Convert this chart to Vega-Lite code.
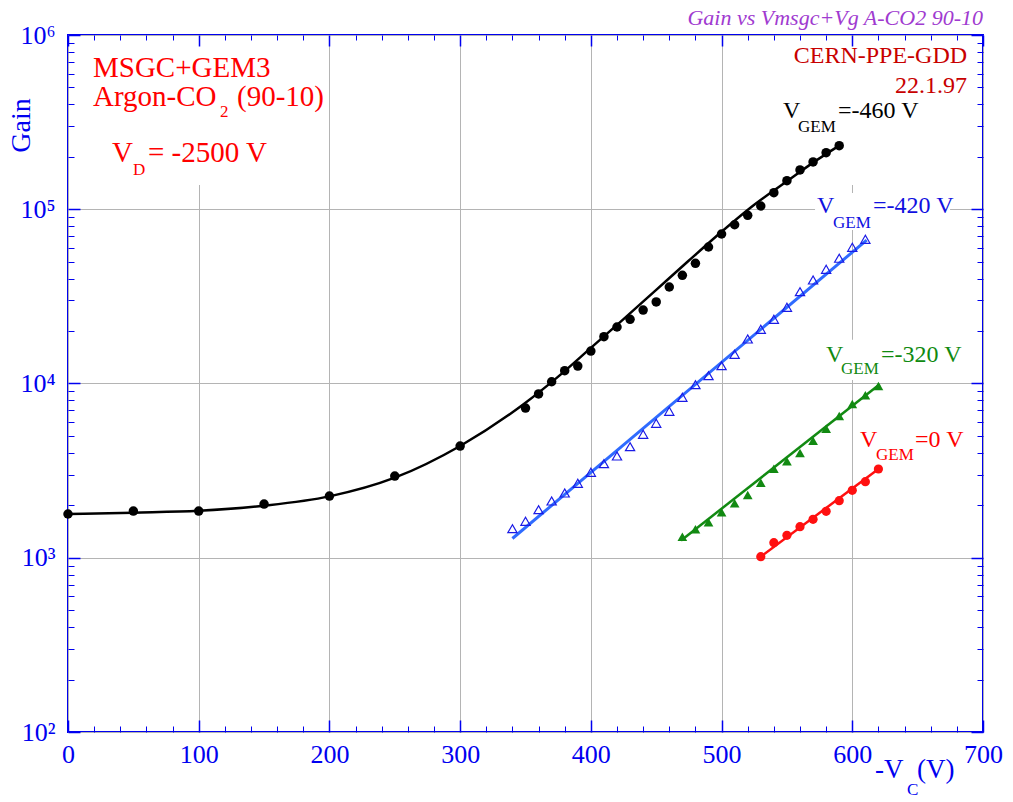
{
  "$schema": "https://vega.github.io/schema/vega-lite/v6.json",
  "width": 915,
  "height": 697,
  "autosize": {"type": "none"},
  "padding": {"left": 68, "top": 35, "right": 30, "bottom": 70},
  "background": "white",
  "config": {"view": {"stroke": "#0000f0", "strokeWidth": 2}, "font": "Liberation Serif"},
  "title": {"text": "Gain vs Vmsgc+Vg A-CO2 90-10", "anchor": "end", "frame": "group", "font": "Liberation Serif", "fontSize": 22, "fontStyle": "italic", "fontWeight": "normal", "color": "#a03ad0", "offset": 0, "dy": 25, "baseline": "alphabetic"},
  "datasets": {
    "pts": [
      {"series": "460", "v": 0, "g": 1783}, {"series": "460", "v": 50, "g": 1854}, {"series": "460", "v": 100, "g": 1854}, {"series": "460", "v": 150, "g": 2032}, {"series": "460", "v": 200, "g": 2259}, {"series": "460", "v": 250, "g": 2942}, {"series": "460", "v": 300, "g": 4375}, {"series": "460", "v": 350, "g": 7228}, {"series": "460", "v": 360, "g": 8710}, {"series": "460", "v": 370, "g": 10234}, {"series": "460", "v": 380, "g": 11840}, {"series": "460", "v": 390, "g": 12590}, {"series": "460", "v": 400, "g": 15350}, {"series": "460", "v": 410, "g": 18560}, {"series": "460", "v": 420, "g": 21100}, {"series": "460", "v": 430, "g": 23360}, {"series": "460", "v": 440, "g": 26400}, {"series": "460", "v": 450, "g": 29370}, {"series": "460", "v": 460, "g": 35800}, {"series": "460", "v": 470, "g": 41780}, {"series": "460", "v": 480, "g": 48960}, {"series": "460", "v": 490, "g": 60730}, {"series": "460", "v": 500, "g": 72120}, {"series": "460", "v": 510, "g": 81500}, {"series": "460", "v": 520, "g": 92240}, {"series": "460", "v": 530, "g": 104400}, {"series": "460", "v": 540, "g": 124500}, {"series": "460", "v": 550, "g": 145900}, {"series": "460", "v": 560, "g": 168100}, {"series": "460", "v": 570, "g": 186800}, {"series": "460", "v": 580, "g": 211200}, {"series": "460", "v": 590, "g": 231700},
      {"series": "420", "v": 340, "g": 1468}, {"series": "420", "v": 350, "g": 1619}, {"series": "420", "v": 360, "g": 1887}, {"series": "420", "v": 370, "g": 2117}, {"series": "420", "v": 380, "g": 2353}, {"series": "420", "v": 390, "g": 2675}, {"series": "420", "v": 400, "g": 3093}, {"series": "420", "v": 410, "g": 3466}, {"series": "420", "v": 420, "g": 3837}, {"series": "420", "v": 430, "g": 4338}, {"series": "420", "v": 440, "g": 5110}, {"series": "420", "v": 450, "g": 5909}, {"series": "420", "v": 460, "g": 6927}, {"series": "420", "v": 470, "g": 8333}, {"series": "420", "v": 480, "g": 9842}, {"series": "420", "v": 490, "g": 11087}, {"series": "420", "v": 500, "g": 12654}, {"series": "420", "v": 510, "g": 14712}, {"series": "420", "v": 520, "g": 18004}, {"series": "420", "v": 530, "g": 20470}, {"series": "420", "v": 540, "g": 23360}, {"series": "420", "v": 550, "g": 27366}, {"series": "420", "v": 560, "g": 33642}, {"series": "420", "v": 570, "g": 39267}, {"series": "420", "v": 580, "g": 45231}, {"series": "420", "v": 590, "g": 52316}, {"series": "420", "v": 600, "g": 60484}, {"series": "420", "v": 610, "g": 67231},
      {"series": "320", "v": 470, "g": 1321}, {"series": "320", "v": 480, "g": 1456}, {"series": "320", "v": 490, "g": 1597}, {"series": "320", "v": 500, "g": 1824}, {"series": "320", "v": 510, "g": 2053}, {"series": "320", "v": 520, "g": 2292}, {"series": "320", "v": 530, "g": 2696}, {"series": "320", "v": 540, "g": 3245}, {"series": "320", "v": 550, "g": 3577}, {"series": "320", "v": 560, "g": 3992}, {"series": "320", "v": 570, "g": 4697}, {"series": "320", "v": 580, "g": 5504}, {"series": "320", "v": 590, "g": 6509}, {"series": "320", "v": 600, "g": 7627}, {"series": "320", "v": 610, "g": 8558}, {"series": "320", "v": 620, "g": 9676},
      {"series": "0", "v": 530, "g": 1014}, {"series": "0", "v": 540, "g": 1220}, {"series": "0", "v": 550, "g": 1345}, {"series": "0", "v": 560, "g": 1507}, {"series": "0", "v": 570, "g": 1662}, {"series": "0", "v": 580, "g": 1847}, {"series": "0", "v": 590, "g": 2126}, {"series": "0", "v": 600, "g": 2438}, {"series": "0", "v": 610, "g": 2733}, {"series": "0", "v": 620, "g": 3231}
    ],
    "fit": [
      {"series": "460", "v": 0, "g": 1780}, {"series": "460", "v": 50, "g": 1815}, {"series": "460", "v": 100, "g": 1860}, {"series": "460", "v": 150, "g": 1990}, {"series": "460", "v": 200, "g": 2250}, {"series": "460", "v": 250, "g": 2880}, {"series": "460", "v": 300, "g": 4380}, {"series": "460", "v": 350, "g": 7755}, {"series": "460", "v": 375, "g": 10950}, {"series": "460", "v": 400, "g": 16015}, {"series": "460", "v": 425, "g": 23420}, {"series": "460", "v": 450, "g": 34470}, {"series": "460", "v": 475, "g": 50770}, {"series": "460", "v": 500, "g": 74230}, {"series": "460", "v": 525, "g": 106050}, {"series": "460", "v": 550, "g": 144700}, {"series": "460", "v": 570, "g": 185200}, {"series": "460", "v": 590, "g": 232000},
      {"series": "420", "v": 340, "g": 1290}, {"series": "420", "v": 611, "g": 66500},
      {"series": "320", "v": 469, "g": 1255}, {"series": "320", "v": 621, "g": 9900},
      {"series": "0", "v": 530, "g": 1014}, {"series": "0", "v": 620, "g": 3231}
    ],
    "boxes": [
      {"v1": 13, "v2": 192.8, "g1": 137800, "g2": 935000},
      {"v1": 541, "v2": 694, "g1": 137800, "g2": 877000},
      {"v1": 571.5, "v2": 674.8, "g1": 76000, "g2": 123900},
      {"v1": 576.8, "v2": 686.3, "g1": 10470, "g2": 17800}
    ],
    "labels": [
      {"role": "big", "grp": "info", "t": "MSGC+GEM3", "v": 19.1, "g": 574000},
      {"role": "big", "grp": "info", "t": "Argon-CO", "v": 19.1, "g": 391700},
      {"role": "big", "grp": "info", "t": "(90-10)", "v": 129.3, "g": 391700},
      {"role": "big", "grp": "info", "t": "V", "v": 33.7, "g": 186600},
      {"role": "big", "grp": "info", "t": "= -2500 V", "v": 61.2, "g": 186600},
      {"role": "sub", "grp": "info", "t": "2", "v": 116.3, "g": 338000},
      {"role": "sub", "grp": "info", "t": "D", "v": 49.7, "g": 157400},
      {"role": "midr", "grp": "cern", "t": "CERN-PPE-GDD", "v": 687.8, "g": 690000},
      {"role": "midr", "grp": "cern", "t": "22.1.97", "v": 687.8, "g": 464000},
      {"role": "mid", "grp": "g460", "t": "V", "v": 547, "g": 334000},
      {"role": "mid", "grp": "g460", "t": "=-460 V", "v": 589.1, "g": 334000},
      {"role": "sub", "grp": "g460", "t": "GEM", "v": 558.5, "g": 277000},
      {"role": "mid", "grp": "g420", "t": "V", "v": 573, "g": 95300},
      {"role": "mid", "grp": "g420", "t": "=-420 V", "v": 615.9, "g": 95300},
      {"role": "sub", "grp": "g420", "t": "GEM", "v": 585.3, "g": 78200},
      {"role": "mid", "grp": "g320", "t": "V", "v": 579.9, "g": 13280},
      {"role": "mid", "grp": "g320", "t": "=-320 V", "v": 622, "g": 13280},
      {"role": "sub", "grp": "g320", "t": "GEM", "v": 591.4, "g": 11340},
      {"role": "mid", "grp": "g0", "t": "V", "v": 605.9, "g": 4325},
      {"role": "mid", "grp": "g0", "t": "=0 V", "v": 648, "g": 4325},
      {"role": "sub", "grp": "g0", "t": "GEM", "v": 618.2, "g": 3640},
      {"role": "ax", "grp": "axis", "t": "-V", "v": 617.4, "g": 54.5},
      {"role": "ax", "grp": "axis", "t": "(V)", "v": 649.5, "g": 54.5},
      {"role": "axsub", "grp": "axis", "t": "C", "v": 641.9, "g": 43.5}
    ]
  },
  "resolve": {"axis": {"x": "independent", "y": "independent"}},
  "layer": [
    {
      "data": {"name": "boxes"},
      "mark": {"type": "rect", "fill": "white"},
      "encoding": {
        "x": {"field": "v1", "type": "quantitative", "scale": {"domain": [0, 700], "nice": false, "zero": false}, "axis": null},
        "x2": {"field": "v2"},
        "y": {"field": "g1", "type": "quantitative", "scale": {"type": "log", "domain": [100, 1000000], "nice": false}, "axis": null},
        "y2": {"field": "g2"}
      }
    },
    {
      "data": {"name": "fit"},
      "transform": [{"filter": "datum.series == '460'"}],
      "mark": {"type": "line", "color": "#000000", "strokeWidth": 2.5, "interpolate": "monotone"},
      "encoding": {
        "x": {"field": "v", "type": "quantitative", "scale": {"domain": [0, 700], "nice": false, "zero": false},
          "axis": {"orient": "bottom", "values": [0, 100, 200, 300, 400, 500, 600, 700], "labels": false, "domain": false, "grid": false, "ticks": true, "tickSize": -12, "tickColor": "#0000f0", "tickWidth": 1.5, "title": null, "zindex": 1}},
        "y": {"field": "g", "type": "quantitative", "scale": {"type": "log", "domain": [100, 1000000], "nice": false},
          "axis": {"orient": "left", "values": [100, 1000, 10000, 100000, 1000000], "labels": false, "domain": false, "grid": false, "ticks": true, "tickSize": -12, "tickColor": "#0000f0", "tickWidth": 1.5, "title": null, "zindex": 1}}
      }
    },
    {
      "data": {"name": "pts"},
      "transform": [{"filter": "datum.series == '460'"}],
      "mark": {"type": "circle", "color": "#000000", "opacity": 1, "size": 90},
      "encoding": {
        "x": {"field": "v", "type": "quantitative", "scale": {"domain": [0, 700], "nice": false, "zero": false},
          "axis": {"orient": "bottom", "values": [0, 100, 200, 300, 400, 500, 600, 700], "ticks": false, "domain": false, "grid": true, "gridColor": "#b4b4b4", "gridWidth": 1, "labelFont": "Liberation Serif", "labelFontSize": 26, "labelColor": "#0000f0", "labelPadding": 9, "labelFlush": false, "labelOverlap": false, "title": null, "zindex": 0}},
        "y": {"field": "g", "type": "quantitative", "scale": {"type": "log", "domain": [100, 1000000], "nice": false},
          "axis": {"orient": "left", "values": [100, 1000, 10000, 100000, 1000000], "ticks": false, "domain": false, "grid": true, "gridColor": "#b4b4b4", "gridWidth": 1, "labelFont": "Liberation Serif", "labelFontSize": 26, "labelColor": "#0000f0", "labelPadding": 13, "labelFlush": false, "labelOverlap": false, "labelBaseline": "middle",
            "labelExpr": "'10' + ['⁰','¹','²','³','⁴','⁵','⁶'][round(log(datum.value)/LN10)]",
            "title": "Gain", "titleFont": "Liberation Serif", "titleFontSize": 28, "titleFontWeight": "normal", "titleColor": "#0000f0", "titleAngle": -90, "titleX": -39, "titleY": 90, "titleAlign": "center", "titleBaseline": "alphabetic", "zindex": 0}}
      }
    },
    {
      "data": {"name": "fit"},
      "transform": [{"filter": "datum.series == '420'"}],
      "mark": {"type": "line", "color": "#2f6bff", "strokeWidth": 3},
      "encoding": {
        "x": {"field": "v", "type": "quantitative", "scale": {"domain": [0, 700], "nice": false, "zero": false},
          "axis": {"orient": "top", "values": [0, 100, 200, 300, 400, 500, 600, 700], "labels": false, "domain": false, "grid": false, "ticks": true, "tickSize": -11, "tickColor": "#0000f0", "tickWidth": 1.5, "title": null, "zindex": 1}},
        "y": {"field": "g", "type": "quantitative", "scale": {"type": "log", "domain": [100, 1000000], "nice": false},
          "axis": {"orient": "right", "values": [100, 1000, 10000, 100000, 1000000], "labels": false, "domain": false, "grid": false, "ticks": true, "tickSize": -12, "tickColor": "#0000f0", "tickWidth": 1.5, "title": null, "zindex": 1}}
      }
    },
    {
      "data": {"name": "pts"},
      "transform": [{"filter": "datum.series == '420'"}],
      "mark": {"type": "point", "shape": "triangle-up", "filled": false, "color": "#1a1ae6", "strokeWidth": 1.2, "size": 85, "opacity": 1},
      "encoding": {
        "x": {"field": "v", "type": "quantitative", "scale": {"domain": [0, 700], "nice": false, "zero": false},
          "axis": {"orient": "bottom", "values": [20, 40, 60, 80, 120, 140, 160, 180, 220, 240, 260, 280, 320, 340, 360, 380, 420, 440, 460, 480, 520, 540, 560, 580, 620, 640, 660, 680], "labels": false, "domain": false, "grid": false, "ticks": true, "tickSize": -6, "tickColor": "#0000f0", "tickWidth": 1, "title": null, "zindex": 1}},
        "y": {"field": "g", "type": "quantitative", "scale": {"type": "log", "domain": [100, 1000000], "nice": false},
          "axis": {"orient": "left", "values": [200, 300, 400, 500, 600, 700, 800, 900, 2000, 3000, 4000, 5000, 6000, 7000, 8000, 9000, 20000, 30000, 40000, 50000, 60000, 70000, 80000, 90000, 200000, 300000, 400000, 500000, 600000, 700000, 800000, 900000], "labels": false, "domain": false, "grid": false, "ticks": true, "tickSize": -6, "tickColor": "#0000f0", "tickWidth": 1, "title": null, "zindex": 1}}
      }
    },
    {
      "data": {"name": "fit"},
      "transform": [{"filter": "datum.series == '320'"}],
      "mark": {"type": "line", "color": "#128a12", "strokeWidth": 2.5},
      "encoding": {
        "x": {"field": "v", "type": "quantitative", "scale": {"domain": [0, 700], "nice": false, "zero": false},
          "axis": {"orient": "top", "values": [20, 40, 60, 80, 120, 140, 160, 180, 220, 240, 260, 280, 320, 340, 360, 380, 420, 440, 460, 480, 520, 540, 560, 580, 620, 640, 660, 680], "labels": false, "domain": false, "grid": false, "ticks": true, "tickSize": -5, "tickColor": "#0000f0", "tickWidth": 1, "title": null, "zindex": 1}},
        "y": {"field": "g", "type": "quantitative", "scale": {"type": "log", "domain": [100, 1000000], "nice": false},
          "axis": {"orient": "right", "values": [200, 300, 400, 500, 600, 700, 800, 900, 2000, 3000, 4000, 5000, 6000, 7000, 8000, 9000, 20000, 30000, 40000, 50000, 60000, 70000, 80000, 90000, 200000, 300000, 400000, 500000, 600000, 700000, 800000, 900000], "labels": false, "domain": false, "grid": false, "ticks": true, "tickSize": -6, "tickColor": "#0000f0", "tickWidth": 1, "title": null, "zindex": 1}}
      }
    },
    {
      "data": {"name": "pts"},
      "transform": [{"filter": "datum.series == '320'"}],
      "mark": {"type": "point", "shape": "triangle-up", "filled": true, "color": "#128a12", "size": 95, "opacity": 1},
      "encoding": {
        "x": {"field": "v", "type": "quantitative", "scale": {"domain": [0, 700], "nice": false, "zero": false}, "axis": null},
        "y": {"field": "g", "type": "quantitative", "scale": {"type": "log", "domain": [100, 1000000], "nice": false}, "axis": null}
      }
    },
    {
      "data": {"name": "fit"},
      "transform": [{"filter": "datum.series == '0'"}],
      "mark": {"type": "line", "color": "#ff1010", "strokeWidth": 2.5},
      "encoding": {
        "x": {"field": "v", "type": "quantitative", "scale": {"domain": [0, 700], "nice": false, "zero": false}, "axis": null},
        "y": {"field": "g", "type": "quantitative", "scale": {"type": "log", "domain": [100, 1000000], "nice": false}, "axis": null}
      }
    },
    {
      "data": {"name": "pts"},
      "transform": [{"filter": "datum.series == '0'"}],
      "mark": {"type": "circle", "color": "#ff1010", "size": 85, "opacity": 1},
      "encoding": {
        "x": {"field": "v", "type": "quantitative", "scale": {"domain": [0, 700], "nice": false, "zero": false}, "axis": null},
        "y": {"field": "g", "type": "quantitative", "scale": {"type": "log", "domain": [100, 1000000], "nice": false}, "axis": null}
      }
    },
    {
      "data": {"name": "labels"},
      "transform": [{"filter": "datum.role == 'big'"}],
      "mark": {"type": "text", "font": "Liberation Serif", "fontSize": 29, "align": "left", "baseline": "alphabetic"},
      "encoding": {
        "x": {"field": "v", "type": "quantitative", "scale": {"domain": [0, 700], "nice": false, "zero": false}, "axis": null},
        "y": {"field": "g", "type": "quantitative", "scale": {"type": "log", "domain": [100, 1000000], "nice": false}, "axis": null},
        "text": {"field": "t"},
        "color": {"field": "grp", "type": "nominal", "legend": null, "scale": {"domain": ["info", "cern", "g460", "g420", "g320", "g0", "axis"], "range": ["#ff0000", "#c80000", "#000000", "#1010e0", "#108a10", "#ff0000", "#0000f0"]}}
      }
    },
    {
      "data": {"name": "labels"},
      "transform": [{"filter": "datum.role == 'mid'"}],
      "mark": {"type": "text", "font": "Liberation Serif", "fontSize": 24, "align": "left", "baseline": "alphabetic"},
      "encoding": {
        "x": {"field": "v", "type": "quantitative", "scale": {"domain": [0, 700], "nice": false, "zero": false}, "axis": null},
        "y": {"field": "g", "type": "quantitative", "scale": {"type": "log", "domain": [100, 1000000], "nice": false}, "axis": null},
        "text": {"field": "t"},
        "color": {"field": "grp", "type": "nominal", "legend": null, "scale": {"domain": ["info", "cern", "g460", "g420", "g320", "g0", "axis"], "range": ["#ff0000", "#c80000", "#000000", "#1010e0", "#108a10", "#ff0000", "#0000f0"]}}
      }
    },
    {
      "data": {"name": "labels"},
      "transform": [{"filter": "datum.role == 'midr'"}],
      "mark": {"type": "text", "font": "Liberation Serif", "fontSize": 24, "align": "right", "baseline": "alphabetic"},
      "encoding": {
        "x": {"field": "v", "type": "quantitative", "scale": {"domain": [0, 700], "nice": false, "zero": false}, "axis": null},
        "y": {"field": "g", "type": "quantitative", "scale": {"type": "log", "domain": [100, 1000000], "nice": false}, "axis": null},
        "text": {"field": "t"},
        "color": {"field": "grp", "type": "nominal", "legend": null, "scale": {"domain": ["info", "cern", "g460", "g420", "g320", "g0", "axis"], "range": ["#ff0000", "#c80000", "#000000", "#1010e0", "#108a10", "#ff0000", "#0000f0"]}}
      }
    },
    {
      "data": {"name": "labels"},
      "transform": [{"filter": "datum.role == 'sub'"}],
      "mark": {"type": "text", "font": "Liberation Serif", "fontSize": 17, "align": "left", "baseline": "alphabetic"},
      "encoding": {
        "x": {"field": "v", "type": "quantitative", "scale": {"domain": [0, 700], "nice": false, "zero": false}, "axis": null},
        "y": {"field": "g", "type": "quantitative", "scale": {"type": "log", "domain": [100, 1000000], "nice": false}, "axis": null},
        "text": {"field": "t"},
        "color": {"field": "grp", "type": "nominal", "legend": null, "scale": {"domain": ["info", "cern", "g460", "g420", "g320", "g0", "axis"], "range": ["#ff0000", "#c80000", "#000000", "#1010e0", "#108a10", "#ff0000", "#0000f0"]}}
      }
    },
    {
      "data": {"name": "labels"},
      "transform": [{"filter": "datum.role == 'ax'"}],
      "mark": {"type": "text", "font": "Liberation Serif", "fontSize": 27, "align": "left", "baseline": "alphabetic"},
      "encoding": {
        "x": {"field": "v", "type": "quantitative", "scale": {"domain": [0, 700], "nice": false, "zero": false}, "axis": null},
        "y": {"field": "g", "type": "quantitative", "scale": {"type": "log", "domain": [100, 1000000], "nice": false}, "axis": null},
        "text": {"field": "t"},
        "color": {"field": "grp", "type": "nominal", "legend": null, "scale": {"domain": ["info", "cern", "g460", "g420", "g320", "g0", "axis"], "range": ["#ff0000", "#c80000", "#000000", "#1010e0", "#108a10", "#ff0000", "#0000f0"]}}
      }
    },
    {
      "data": {"name": "labels"},
      "transform": [{"filter": "datum.role == 'axsub'"}],
      "mark": {"type": "text", "font": "Liberation Serif", "fontSize": 17, "align": "left", "baseline": "alphabetic"},
      "encoding": {
        "x": {"field": "v", "type": "quantitative", "scale": {"domain": [0, 700], "nice": false, "zero": false}, "axis": null},
        "y": {"field": "g", "type": "quantitative", "scale": {"type": "log", "domain": [100, 1000000], "nice": false}, "axis": null},
        "text": {"field": "t"},
        "color": {"field": "grp", "type": "nominal", "legend": null, "scale": {"domain": ["info", "cern", "g460", "g420", "g320", "g0", "axis"], "range": ["#ff0000", "#c80000", "#000000", "#1010e0", "#108a10", "#ff0000", "#0000f0"]}}
      }
    }
  ]
}
